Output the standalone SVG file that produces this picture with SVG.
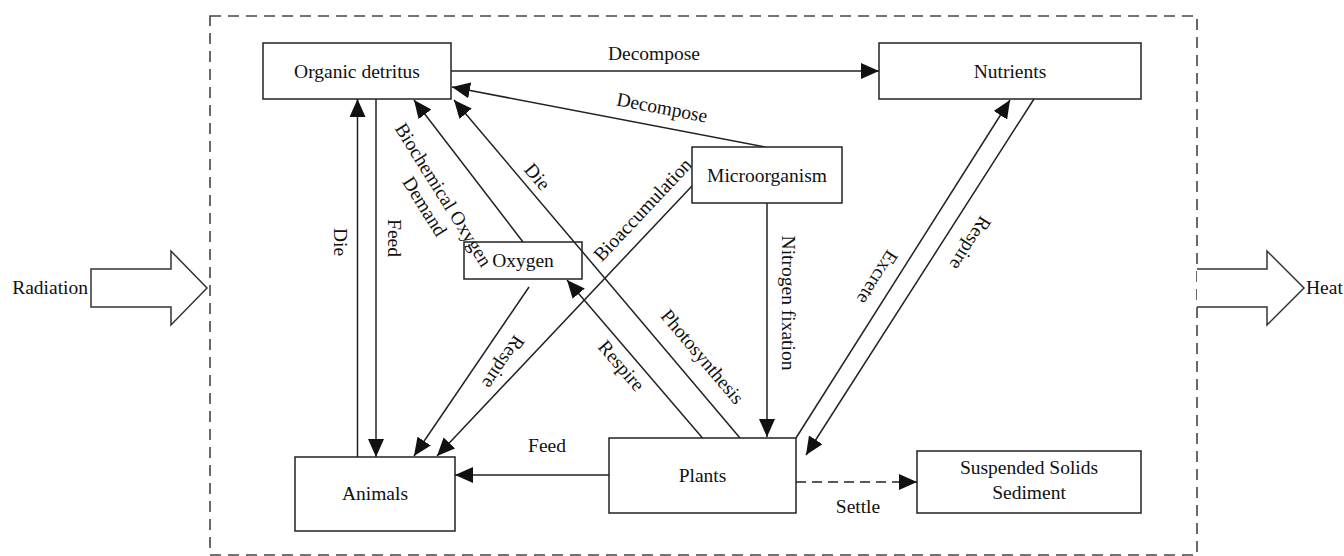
<svg xmlns="http://www.w3.org/2000/svg" width="1344" height="556" viewBox="0 0 1344 556">
<style>
.box{fill:#fff;stroke:#222;stroke-width:1.5}
.t{font-family:"Liberation Serif","Times New Roman",serif;font-size:19.5px;fill:#111}
.m{text-anchor:middle}
.c{fill:none;stroke:#222;stroke-width:1.5}
.big{fill:#fff;stroke:#333;stroke-width:1.5}
</style>
<defs>
<marker id="ah" markerUnits="userSpaceOnUse" markerWidth="18" markerHeight="16" refX="18" refY="8" orient="auto"><path d="M0,0 L18,8 L0,16 z" fill="#111"/></marker>
</defs>
<rect x="210" y="16" width="987" height="539" fill="none" stroke="#444" stroke-width="1.6" stroke-dasharray="11 7"/>
<g id="radiation">
<path class="big" d="M91,269 L171,269 L171,251 L207,288 L171,325 L171,307 L91,307 Z"/>
<text class="t" x="88" y="294" text-anchor="end">Radiation</text>
</g>
<g id="heat">
<path class="big" d="M1197,269 L1267,269 L1267,251 L1304,288 L1267,325 L1267,307 L1197,307"/>
<text class="t" x="1306" y="294">Heat</text>
</g>
<g id="connectors">
<path class="c" d="M451,71 L879,71" marker-end="url(#ah)"/>
<path class="c" d="M765,147 L452,87" marker-end="url(#ah)"/>
<path class="c" d="M692,186 L437,456" marker-end="url(#ah)"/>
<path class="c" d="M529,287 L414,456" marker-end="url(#ah)"/>
<path class="c" d="M767,203 L767,437" marker-end="url(#ah)"/>
<path class="c" d="M357.5,457 L357.5,99" marker-end="url(#ah)"/>
<path class="c" d="M376,99 L376,457" marker-end="url(#ah)"/>
<path class="c" d="M523,242 L414,100" marker-end="url(#ah)"/>
<path class="c" d="M740,438 L454,100" marker-end="url(#ah)"/>
<path class="c" d="M702.5,438 L567,280" marker-end="url(#ah)"/>
<path class="c" d="M796,438 L1010,100" marker-end="url(#ah)"/>
<path class="c" d="M1034,99 L806,455" marker-end="url(#ah)"/>
<path class="c" d="M609,475 L455,475" marker-end="url(#ah)"/>
<path class="c" d="M796,482 L917,482" stroke-dasharray="10 6" marker-end="url(#ah)"/>
<text class="t m" x="654" y="60">Decompose</text>
<text class="t m" transform="translate(662,108) rotate(10.85)" y="6">Decompose</text>
<text class="t m" transform="translate(643,210) rotate(-46.7)" y="6">Bioaccumulation</text>
<text class="t m" transform="translate(503,362) rotate(124)" y="6">Respire</text>
<text class="t m" transform="translate(788,303) rotate(90)" y="6">Nitrogen fixation</text>
<text class="t m" transform="translate(340,242) rotate(90)" y="6">Die</text>
<text class="t m" transform="translate(394,238) rotate(90)" y="6">Feed</text>
<g transform="translate(443,195) rotate(58)">
<text class="t m" y="6">Biochemical Oxygen</text>
<text class="t m" y="28">Demand</text>
</g>
<text class="t m" transform="translate(537,177) rotate(49.8)" y="6">Die</text>
<text class="t m" transform="translate(621,366) rotate(49.4)" y="6">Respire</text>
<text class="t m" transform="translate(702,357) rotate(49.8)" y="6">Photosynthesis</text>
<text class="t m" transform="translate(877,277) rotate(122.3)" y="6">Excrete</text>
<text class="t m" transform="translate(970,243) rotate(122.6)" y="6">Respire</text>
<text class="t m" x="547" y="452">Feed</text>
<text class="t m" x="858" y="513">Settle</text>
</g>
<g id="organic-detritus">
<rect class="box" x="263" y="43" width="188" height="56"/>
<text class="t m" x="357" y="78">Organic detritus</text>
</g>
<g id="nutrients">
<rect class="box" x="879" y="43" width="262" height="56"/>
<text class="t m" x="1010" y="78">Nutrients</text>
</g>
<g id="microorganism">
<rect class="box" x="692" y="147" width="150" height="56"/>
<text class="t m" x="767" y="182">Microorganism</text>
</g>
<g id="oxygen">
<rect class="box" x="464" y="242" width="118" height="37" fill="none" style="fill:none"/>
<text class="t m" x="523" y="266.5">Oxygen</text>
</g>
<g id="animals">
<rect class="box" x="295" y="457" width="160" height="74"/>
<text class="t m" x="375" y="500">Animals</text>
</g>
<g id="plants">
<rect class="box" x="609" y="438" width="187" height="75"/>
<text class="t m" x="702.5" y="482">Plants</text>
</g>
<g id="suspended-solids">
<rect class="box" x="917" y="451" width="224" height="62"/>
<text class="t m" x="1029" y="474">Suspended Solids</text>
<text class="t m" x="1029" y="499">Sediment</text>
</g>
</svg>
